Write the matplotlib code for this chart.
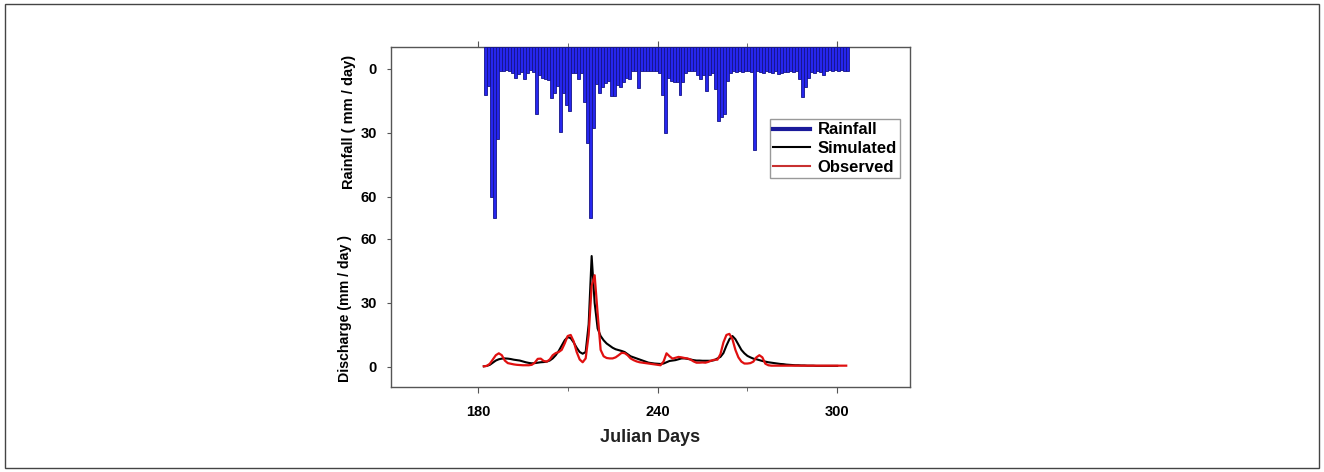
import matplotlib
matplotlib.use("Agg")
import matplotlib.pyplot as plt
from matplotlib.lines import Line2D
from matplotlib.patches import Rectangle
from matplotlib.ticker import FixedLocator

plt.rcParams["font.family"] = ["Liberation Sans", "DejaVu Sans"]

# daily rainfall (mm/day), days 182..303
rain_days = list(range(182, 304))
rainfall = [
    12, 8, 60, 70, 33, 1, 1, 0.5, 1, 2,
    4, 2.5, 1.5, 4.5, 2, 0.5, 1.5, 21, 3, 4,
    4.5, 5, 13.5, 11.5, 8, 29.5, 11.5, 17, 19.5, 2,
    2, 4.5, 2, 15.5, 34.5, 70, 27.5, 7, 11.5, 8.5,
    6.5, 5.5, 12.5, 12.5, 7.5, 8.5, 6, 4, 4.5, 1,
    1, 9, 1, 1, 1, 1, 1, 1, 2, 12,
    30, 4, 5.5, 6, 6, 12, 6, 2, 1, 1,
    1, 3, 4.5, 3, 10.5, 3, 2, 9.5, 24.5, 22.5,
    21, 5.5, 2, 1, 1.5, 1, 1.5, 1, 1, 1.5,
    38, 1, 1.5, 2, 1, 1.5, 2, 1, 2.5, 2,
    1.5, 1.5, 1, 1.5, 1, 4.5, 13, 8.5, 4, 1.5,
    2, 1, 1.5, 3, 1, 0.5, 1, 0.5, 1, 0.5,
    1, 1,
]

# simulated discharge (mm/day), days 182..300
sim_days = list(range(182, 301))
simulated = [
    0.3, 0.5, 1.0, 2.0, 3.0, 3.6, 3.9, 4.0, 3.9, 3.7,
    3.4, 3.2, 3.0, 2.6, 2.2, 1.9, 1.7, 1.8, 2.0, 2.2,
    2.3, 2.5, 3.0, 4.0, 5.5, 7.5, 10.0, 12.5, 14.0, 13.5,
    11.5, 9.0, 7.0, 6.2, 7.0, 20.0, 52.0, 30.0, 18.0, 14.5,
    12.5, 11.0, 10.0, 9.0, 8.3, 7.9, 7.5, 7.0, 6.0, 5.0,
    4.5, 4.0, 3.5, 3.0, 2.5, 2.0, 1.8, 1.6, 1.5, 1.4,
    1.6, 2.2, 2.8, 3.0, 3.2, 3.6, 4.0, 4.0, 3.8, 3.5,
    3.2, 3.0, 3.0, 2.9, 2.9, 2.9, 2.9, 3.2, 4.0, 4.7,
    6.5, 10.0, 13.0, 14.5, 13.0, 10.5, 8.0, 6.4, 5.2, 4.5,
    3.9, 3.6, 3.2, 2.8, 2.5, 2.2, 2.0, 1.8, 1.6, 1.4,
    1.3, 1.1, 1.0, 0.9, 0.8, 0.8, 0.7, 0.7, 0.6, 0.6,
    0.6, 0.5, 0.5, 0.5, 0.5, 0.5, 0.5, 0.5, 0.5,
]

# observed discharge (mm/day), days 182..303
obs_days = list(range(182, 304))
observed = [
    0.3, 0.5, 1.5, 3.5, 5.5, 6.4, 5.5, 3.0, 1.8, 1.5,
    1.2, 1.0, 0.9, 0.8, 0.8, 0.8, 1.0, 2.0, 3.8, 3.9,
    2.8, 2.5, 3.5, 5.5, 6.5, 7.0, 8.0, 11.0, 14.5, 15.0,
    12.0, 7.0, 3.5, 2.2, 4.0, 15.0, 38.0, 43.0, 25.0, 8.0,
    5.0, 4.2, 4.0, 4.0, 4.5, 5.5, 6.6, 6.5, 5.5, 4.0,
    3.2, 2.6, 2.2, 2.0, 1.8, 1.6, 1.4, 1.2, 1.0, 0.8,
    2.5, 6.4, 5.0, 3.9, 4.3, 4.7, 4.5, 4.2, 4.0, 3.5,
    2.6, 2.0, 2.0, 2.1, 2.0, 2.4, 3.0, 3.4, 3.4, 6.0,
    11.5, 15.0, 15.5, 13.0, 8.0, 4.5, 2.5, 1.6, 1.6, 1.8,
    2.5, 4.5, 5.5, 4.5, 1.5, 0.8, 0.6, 0.6, 0.6, 0.6,
    0.6, 0.6, 0.6, 0.6, 0.6, 0.6, 0.6, 0.6, 0.6, 0.6,
    0.6, 0.6, 0.6, 0.6, 0.6, 0.6, 0.6, 0.6, 0.6, 0.6,
    0.6, 0.6,
]

RAIN_TOP = -10.3
RAIN_BOTTOM = 149.1

fig = plt.figure(figsize=(13.24, 4.72), dpi=100)
fig.patches.append(Rectangle((5 / 1324, 4 / 472), 1314 / 1324, 464 / 472,
                             transform=fig.transFigure, fill=False,
                             edgecolor="#444444", linewidth=1.0))

ax = fig.add_axes([391 / 1324, 85 / 472, 519 / 1324, 340 / 472])
ax.plot(sim_days, simulated, color="black", lw=1.5, zorder=3)
ax.plot(obs_days, observed, color="#e01010", lw=1.6, zorder=4)
ax.set_xlim(151, 324.3)
ax.set_ylim(-9.4, 150)
ax.set_yticks([0, 30, 60])
ax.set_xticks([180, 240, 300])
ax.xaxis.set_minor_locator(FixedLocator([210, 270]))
ax.tick_params(axis="x", which="major", direction="out", length=4, pad=9,
               top=True, labelsize=10.5, color="#555555")
ax.tick_params(axis="x", which="minor", direction="out", length=3,
               top=True, color="#555555")
ax.tick_params(axis="y", direction="out", length=3, pad=7, labelsize=10.5,
               color="#555555")
for lab in ax.get_xticklabels() + ax.get_yticklabels():
    lab.set_fontweight("bold")
for s in ax.spines.values():
    s.set_color("#555555")
    s.set_linewidth(1.0)

ax2 = ax.twinx()
ax2.bar(rain_days, [r - RAIN_TOP for r in rainfall], bottom=RAIN_TOP,
        width=1.0, align="edge", color="#2626ee", edgecolor="#14148a",
        linewidth=0.6, zorder=2)
ax2.set_ylim(RAIN_BOTTOM, RAIN_TOP)
ax2.yaxis.tick_left()
ax2.set_yticks([0, 30, 60])
ax2.tick_params(axis="y", direction="out", length=3, pad=7, labelsize=10.5,
                color="#555555")
for lab in ax2.get_yticklabels():
    lab.set_fontweight("bold")
for s in ax2.spines.values():
    s.set_visible(False)

fig.text(349 / 1324, 1 - 122 / 472, "Rainfall ( mm / day)", rotation=90,
         ha="center", va="center", fontsize=10.5, fontweight="bold")
fig.text(345 / 1324, 1 - 309 / 472, "Discharge (mm / day )", rotation=90,
         ha="center", va="center", fontsize=10.2, fontweight="bold")
fig.text(650 / 1324, 1 - 438 / 472, "Julian Days", ha="center", va="center",
         fontsize=13, fontweight="bold", color="#222222")

handles = [
    Line2D([], [], color="#1a1a9a", lw=3),
    Line2D([], [], color="black", lw=1.5),
    Line2D([], [], color="#c83030", lw=1.5),
]
leg = ax2.legend(handles, ["Rainfall", "Simulated", "Observed"],
                 loc="upper left", bbox_to_anchor=((770 - 391) / 519, (387 - 119) / 340),
                 frameon=True, fancybox=False, framealpha=1,
                 edgecolor="#999999", borderpad=0.2, labelspacing=0.22,
                 handlelength=2.2, handletextpad=0.45, borderaxespad=0,
                 prop={"size": 12, "weight": "bold"})
leg.get_frame().set_linewidth(1.0)

fig.savefig("out.png", dpi=100)
